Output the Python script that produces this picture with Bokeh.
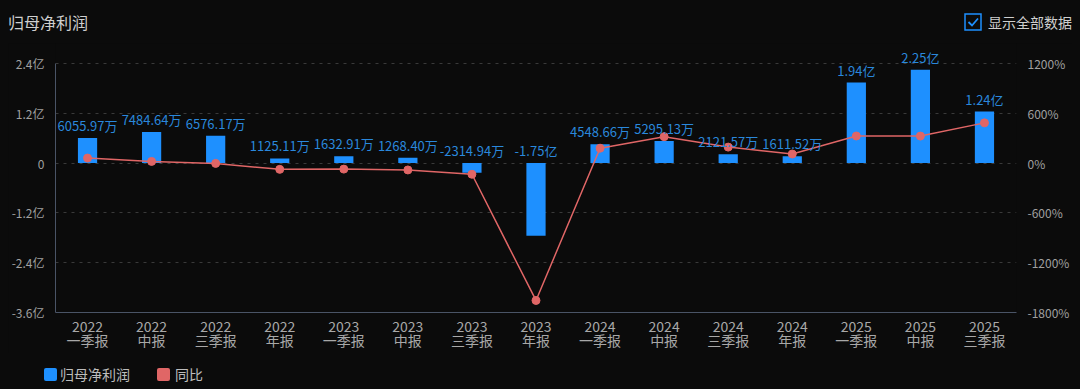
from bokeh.plotting import figure
from bokeh.models import (ColumnDataSource, Range1d, LinearAxis, FixedTicker,
                          CustomJSTickFormatter, LabelSet, Div, FactorRange)
from bokeh.layouts import column
from bokeh.core.properties import value
from bokeh.embed import file_html
from bokeh.resources import INLINE

# ---------------- data ----------------
periods = ["2022\n一季报", "2022\n中报", "2022\n三季报", "2022\n年报",
           "2023\n一季报", "2023\n中报", "2023\n三季报", "2023\n年报",
           "2024\n一季报", "2024\n中报", "2024\n三季报", "2024\n年报",
           "2025\n一季报", "2025\n中报", "2025\n三季报"]
net_profit_yi = [0.605597, 0.748464, 0.657617, 0.112511, 0.163291, 0.126840,
                 -0.231494, -1.75, 0.454866, 0.529513, 0.212157, 0.161152,
                 1.94, 2.25, 1.24]
profit_labels = ["6055.97万", "7484.64万", "6576.17万", "1125.11万", "1632.91万",
                 "1268.40万", "-2314.94万", "-1.75亿", "4548.66万", "5295.13万",
                 "2121.57万", "1611.52万", "1.94亿", "2.25亿", "1.24亿"]
yoy_pct = [60, 20, -4, -76, -73, -83, -135, -1655, 179, 318, 192, 109, 326, 325, 484]
left_ticks = [-3.6, -2.4, -1.2, 0, 1.2, 2.4]
right_ticks = [-1800, -1200, -600, 0, 600, 1200]

BG = "#0b0b0b"
BAR = "#1e90ff"
LINE = "#e06666"
FONT = "Noto Sans CJK SC"

# headroom above the top tick so the top bar labels are not clipped
HEAD = 0.48
left_lo, left_hi = left_ticks[0], left_ticks[-1]
right_lo, right_hi = right_ticks[0], right_ticks[-1]
ratio = (right_hi - right_lo) / (left_hi - left_lo)

label_y = [max(v, 0) for v in net_profit_yi]
src = ColumnDataSource(dict(period=periods, profit=net_profit_yi, yoy=yoy_pct,
                            label=profit_labels, label_y=label_y))

p = figure(x_range=FactorRange(*periods), y_range=Range1d(left_lo, left_hi + HEAD),
           width=1064, height=310, output_backend="svg", toolbar_location=None,
           title=None, margin=0,
           background_fill_color=BG, border_fill_color=BG, outline_line_color=None,
           min_border_left=46, min_border_right=53, min_border_top=0, min_border_bottom=40)
p.extra_y_ranges = {"yoy": Range1d(right_lo, right_hi + HEAD * ratio)}

def no_ticks(ax):
    ax.major_tick_line_color = None
    ax.minor_tick_line_color = None
    ax.major_tick_out = 0
    ax.major_tick_in = 0
    ax.minor_tick_out = 0
    ax.minor_tick_in = 0

# left axis
la = p.yaxis[0]
la.ticker = FixedTicker(ticks=left_ticks)
la.bounds = (left_lo, left_hi)
la.formatter = CustomJSTickFormatter(code='return Math.abs(tick) < 1e-9 ? "0" : tick.toFixed(1) + "亿";')
la.axis_line_color = "#4a5466"
no_ticks(la)
la.major_label_text_color = "#a0a0a0"
la.major_label_text_font = FONT
la.major_label_text_font_size = "12px"
la.major_label_standoff = 11

# right axis
ra = LinearAxis(y_range_name="yoy", ticker=FixedTicker(ticks=right_ticks),
                formatter=CustomJSTickFormatter(code='return tick + "%";'))
ra.axis_line_color = None
no_ticks(ra)
ra.major_label_text_color = "#a0a0a0"
ra.major_label_text_font = FONT
ra.major_label_text_font_size = "12px"
ra.major_label_standoff = 11
p.add_layout(ra, "right")

# bottom axis
xa = p.xaxis[0]
xa.axis_line_color = "#4a5466"
no_ticks(xa)
xa.major_label_text_color = "#a8a8a8"
xa.major_label_text_font = FONT
xa.major_label_text_font_size = "14px"
xa.major_label_text_line_height = 0.74
xa.major_label_standoff = 3

p.xgrid.visible = False
p.ygrid.ticker = FixedTicker(ticks=left_ticks)
p.ygrid.grid_line_color = "#3a3a3a"
p.ygrid.grid_line_dash = "3 5"

p.vbar(x="period", top="profit", width=0.3, source=src, fill_color=BAR, line_color=None)
p.line(x="period", y="yoy", y_range_name="yoy", source=src, line_color=LINE, line_width=1.5)
p.scatter(x="period", y="yoy", y_range_name="yoy", source=src, size=8,
          fill_color=LINE, line_color=LINE)

labels = LabelSet(x="period", y="label_y", text="label", source=src,
                  text_align="center", text_baseline="bottom", y_offset=3,
                  text_color="#2a88dc", text_font=value(FONT), text_font_size="13px")
p.add_layout(labels)

header = Div(width=1064, height=35, margin=0, styles={"background": BG}, text=f"""
<div style="position:relative;width:1064px;height:35px;font-family:'{FONT}';">
 <div style="position:absolute;left:0px;top:3px;font-size:16px;color:#cfcfcf;line-height:22px;">归母净利润</div>
 <div style="position:absolute;right:0px;top:5px;display:flex;align-items:center;height:18px;">
   <svg width="18" height="18" style="display:block"><rect x="1" y="1" width="16" height="16" fill="none" stroke="#1e90ff" stroke-width="1.5"/><polyline points="4.5,9 8,12.5 14,5.5" fill="none" stroke="#1e90ff" stroke-width="1.8"/></svg>
   <span style="margin-left:6px;font-size:14px;color:#cfcfcf;line-height:18px;">显示全部数据</span>
 </div>
</div>""")

footer = Div(width=1064, height=28, margin=0, styles={"background": BG}, text=f"""
<div style="position:relative;width:1064px;height:28px;font-family:'{FONT}';font-size:14px;color:#bdbdbd;">
 <div style="position:absolute;left:36px;top:15px;width:13px;height:13px;background:{BAR};border-radius:2px;"></div>
 <div style="position:absolute;left:52px;top:14px;line-height:14px;">归母净利润</div>
 <div style="position:absolute;left:149px;top:15px;width:13px;height:13px;background:{LINE};border-radius:2px;"></div>
 <div style="position:absolute;left:167px;top:14px;line-height:14px;">同比</div>
</div>""")

layout = column(header, p, footer, spacing=0, margin=0, styles={"background": BG})

html = file_html(layout, INLINE, title="归母净利润")
html = html.replace("</head>", "<style>html{background:%s;margin:0;}body{background:%s;margin:8px;}</style></head>" % (BG, BG), 1)
open("out.html", "w").write(html)
